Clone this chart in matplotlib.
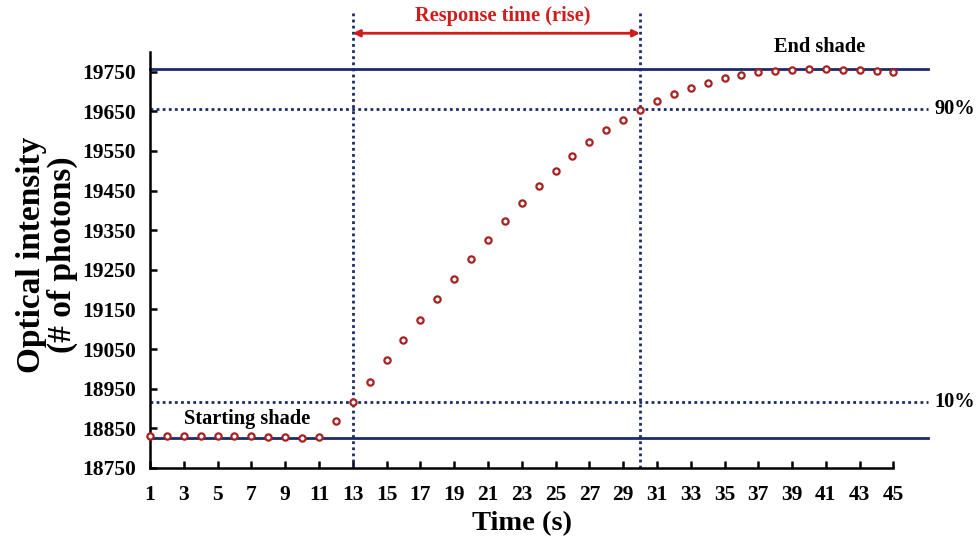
import matplotlib.pyplot as plt
import numpy as np

plt.rcParams['font.family'] = ['Liberation Serif', 'DejaVu Serif']
plt.rcParams['font.weight'] = 'bold'

# measured optical intensity, one reading per second
time_s = np.arange(1, 46)
intensity = [18830, 18830, 18831, 18831, 18831, 18830, 18830, 18829, 18829, 18826,
             18827, 18868, 18917, 18968, 19023, 19072, 19124, 19177, 19228, 19277,
             19326, 19373, 19418, 19461, 19500, 19537, 19572, 19602, 19629, 19653,
             19676, 19693, 19710, 19722, 19733, 19742, 19748, 19751, 19755, 19756,
             19756, 19755, 19754, 19752, 19748]

start_shade = 18826
end_shade = 19758
level_10 = 18917
level_90 = 19656
rise_start = 13
rise_end = 30
y_ticks = np.arange(18750, 19751, 100)
x_ticks = np.arange(1, 46, 2)

navy = '#1c2a6b'
red = '#d01c1c'
dot_red = '#a82020'

x_end = 47.06

fig = plt.figure(figsize=(9.79, 5.45), dpi=100)
ax = fig.add_axes([0.1532, 0.1413, 0.795, 0.7635])
ax.set_xlim(1, x_end)
ax.set_ylim(18750, 19800)

# shade levels and 10/90 % thresholds
ax.plot([1, x_end], [end_shade, end_shade], color=navy, lw=2, clip_on=False)
ax.plot([1, x_end], [start_shade, start_shade], color=navy, lw=2, clip_on=False)
ax.plot([1, x_end], [level_90, level_90], color=navy, lw=2, ls=(0, (1, 1.2)), clip_on=False)
ax.plot([1, x_end], [level_10, level_10], color=navy, lw=2, ls=(0, (1, 1.2)), clip_on=False)

for xv in (rise_start, rise_end):
    ax.plot([xv, xv], [18750, 19898], color=navy, lw=2, ls=(0, (1, 1.2)), clip_on=False)

ax.plot(time_s, intensity, 'o', mfc='white', mec=dot_red, ms=4.5, mew=1.6,
        clip_on=False, zorder=5)

# response time arrow
ax.annotate('', xy=(rise_start, 19847), xytext=(rise_end, 19847),
            arrowprops=dict(arrowstyle='<|-|>', color=red, lw=2,
                            mutation_scale=10, shrinkA=0, shrinkB=0),
            annotation_clip=False)
ax.text(21.9, 19890, 'Response time (rise)', color=red,
        fontsize=14.7, fontweight='bold', ha='center', va='center')

ax.text(6.75, 18873, 'Starting shade', fontsize=14.7, fontweight='bold',
        ha='center', va='center')
ax.text(40.6, 19812, 'End shade', fontsize=14.7, fontweight='bold',
        ha='center', va='center')
ax.text(47.4, level_90, '90%', fontsize=14.7, fontweight='bold',
        ha='left', va='center')
ax.text(47.4, level_10, '10%', fontsize=14.7, fontweight='bold',
        ha='left', va='center')

ax.spines['top'].set_visible(False)
ax.spines['right'].set_visible(False)
ax.spines['left'].set_linewidth(1.8)
ax.spines['bottom'].set_linewidth(1.8)
ax.spines['bottom'].set_bounds(1, 45)

ax.set_xticks(x_ticks)
ax.set_yticks(y_ticks)
ax.tick_params(direction='in', length=5, width=1.8, labelsize=15.5)
ax.tick_params(axis='x', pad=12)
ax.tick_params(axis='y', pad=10)

ax.set_xlabel('Time (s)', fontsize=20.5, fontweight='bold', va='center')
ax.xaxis.set_label_coords(22 / (x_end - 1), -0.134)
ax.set_ylabel('Optical intensity\n(# of photons)', fontsize=24,
              fontweight='bold', linespacing=1.0, va='center')
ax.yaxis.set_label_coords(-0.132, 0.513)

fig.savefig('out.png', dpi=100)
